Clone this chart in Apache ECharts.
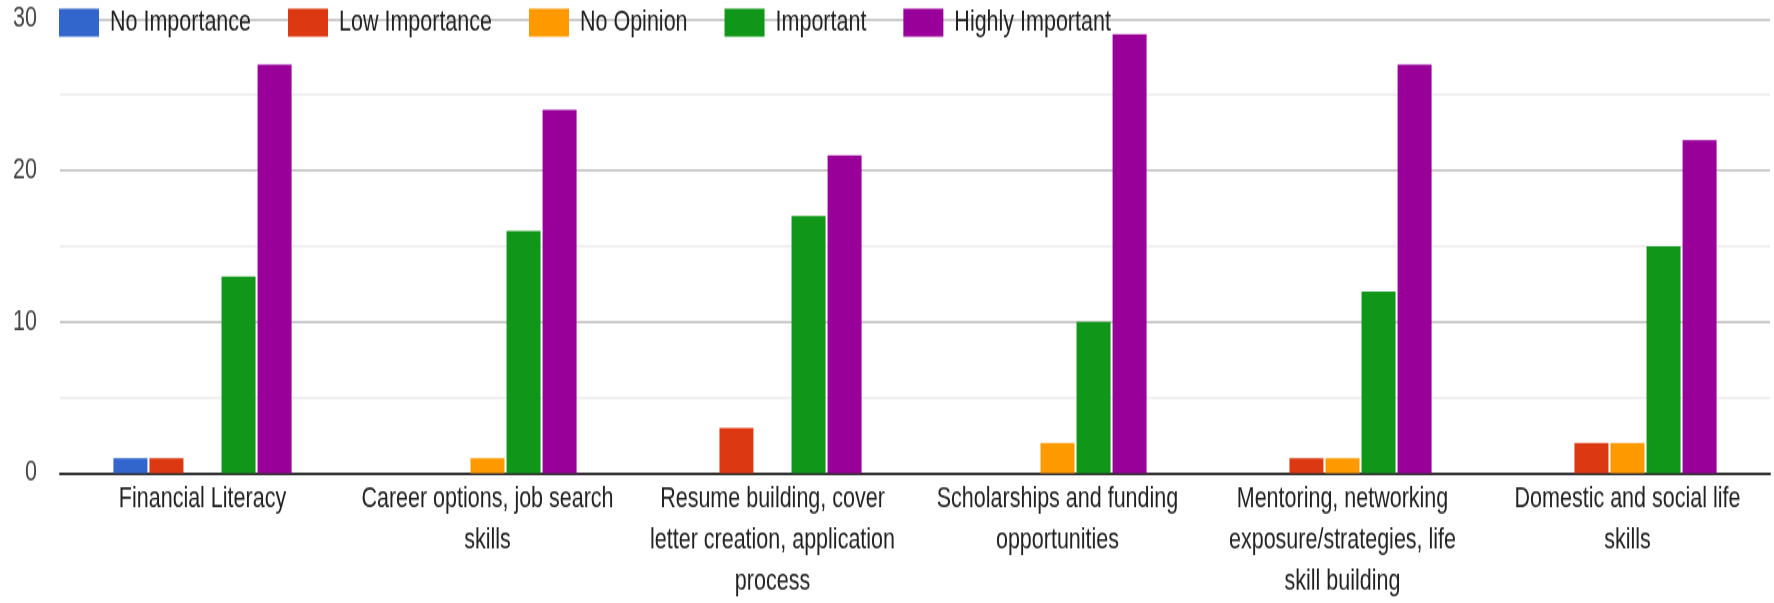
<!DOCTYPE html>
<html>
<head>
<meta charset="utf-8">
<script src="https://cdn.jsdelivr.net/npm/echarts@6/dist/echarts.min.js"></script>
<style>
html,body{margin:0;padding:0;background:#fff;overflow:hidden;}
#wrap{width:1774px;height:603px;overflow:hidden;}
#chart{width:1774px;height:453px;transform:scaleY(1.3311);transform-origin:0 0;}
</style>
</head>
<body>
<div id="wrap"><div id="chart"></div></div>
<script>
const categories = [
  "Financial Literacy",
  "Career options, job search\nskills",
  "Resume building, cover\nletter creation, application\nprocess",
  "Scholarships and funding\nopportunities",
  "Mentoring, networking\nexposure/strategies, life\nskill building",
  "Domestic and social life\nskills"
];
const seriesNames = ["No Importance", "Low Importance", "No Opinion", "Important", "Highly Important"];
const noImportance = [1, 0, 0, 0, 0, 0];
const lowImportance = [1, 0, 3, 0, 1, 2];
const noOpinion = [0, 1, 0, 2, 1, 2];
const important = [13, 16, 17, 10, 12, 15];
const highlyImportant = [27, 24, 21, 29, 27, 22];
const colors = ["#3366cc", "#dc3912", "#ff9900", "#109618", "#990099"];
const yTicks = [0, 10, 20, 30];

const allValues = [noImportance, lowImportance, noOpinion, important, highlyImportant];
const font = "'Liberation Sans', Arial, sans-serif";

const chart = echarts.init(document.getElementById('chart'));
chart.setOption({
  animation: false,
  color: colors,
  textStyle: { fontFamily: font },
  legend: {
    left: 59,
    top: 6,
    padding: 0,
    itemWidth: 40,
    itemHeight: 21,
    itemGap: 37,
    icon: 'rect',
    textStyle: { fontSize: 21.5, color: '#222', fontFamily: font, padding: [0, 0, 0, 6] },
    data: seriesNames
  },
  grid: { left: 60, right: 4, top: 14.3, bottom: 453 - 360.6, containLabel: false },
  xAxis: {
    type: 'category',
    data: categories,
    axisTick: { show: false },
    axisLine: { lineStyle: { color: '#333', width: 2 } },
    axisLabel: {
      interval: 0,
      fontSize: 21.5,
      lineHeight: 31,
      color: '#222',
      margin: 4.5,
      fontFamily: font,
      align: 'center'
    }
  },
  yAxis: {
    type: 'value',
    min: yTicks[0],
    max: yTicks[yTicks.length - 1],
    interval: 10,
    axisLine: { show: false },
    axisTick: { show: false },
    axisLabel: { fontSize: 21.5, color: '#444', margin: 23, fontFamily: font },
    splitLine: { lineStyle: { color: '#cccccc', width: 2 } },
    minorTick: { show: false, splitNumber: 2 },
    minorSplitLine: { show: true, lineStyle: { color: '#ebebeb', width: 1.5 } }
  },
  series: seriesNames.map((name, i) => ({
    name: name,
    type: 'bar',
    data: allValues[i],
    barWidth: 34,
    barGap: '6%',
    itemStyle: { color: colors[i] }
  }))
});
</script>
</body>
</html>
